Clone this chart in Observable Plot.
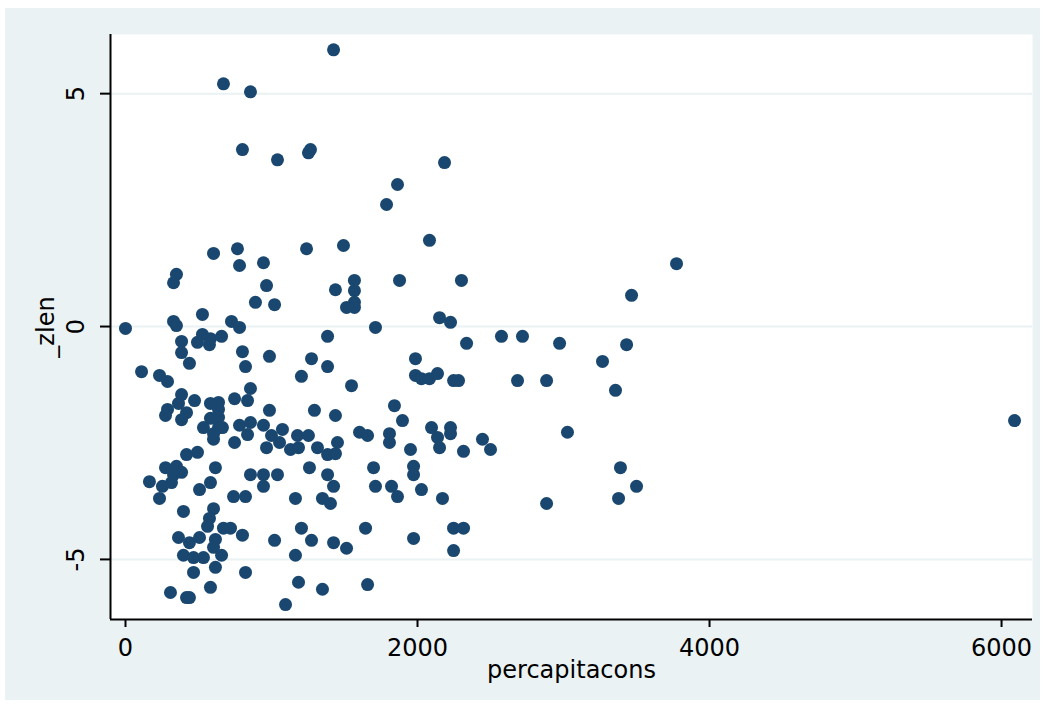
<!DOCTYPE html>
<html>
<head>
<meta charset="utf-8">
<script src="https://cdn.jsdelivr.net/npm/d3@7"></script>
<script src="https://cdn.jsdelivr.net/npm/@observablehq/plot@0.6"></script>
<style>
  html, body { margin: 0; padding: 0; background: #ffffff; }
  #chart { position: absolute; left: 5px; top: 8px; width: 1035px; height: 692px; background: #eaf2f3; }
</style>
</head>
<body>
<div id="chart"></div>
<script>
const percapitacons = [
  1425, 671, 856, 801, 1041, 1267, 1253, 603, 767, 781, 945, 1240, 1493, 349, 329, 966, 1438, 890, 1021, 527,
  329, 349, 0, 726, 781, 527, 493, 575, 582, 658, 384, 384, 1384, 801, 986, 438, 822, 1274, 1384, 1205,
  110, 233, 288, 856, 384, 363, 473, 582, 637, 637, 747, 836, 986, 1294, 1438, 288, 274, 418, 384, 582,
  637, 637, 534, 664, 603, 603, 781, 856, 836, 945, 747, 1000, 1075, 1055, 966, 1130, 1178, 1185, 1253, 1315,
  1452, 1384, 1438, 418, 493, 274, 349, 384, 329, 616, 1260, 1384, 164, 253, 315, 582, 507, 856, 945, 1041,
  945, 1425, 233, 740, 822, 1164, 1349, 1404, 397, 603, 575, 562, 671, 719, 1205, 363, 438, 507, 616, 603,
  801, 1021, 1274, 1425, 397, 466, 534, 658, 466, 616, 822, 1164, 1185, 1349, 308, 418, 438, 582, 1096,
  2185, 1863, 1788, 2082, 1568, 1568, 1877, 2301, 1568, 1514, 1568, 1712, 2151, 2226, 2575, 2719, 2973, 2336,
  1986, 1986, 2027, 2082, 2137, 2247, 2281, 2685, 2884, 1548, 1842, 1897, 1603, 1658, 1808, 1808, 2096, 2137,
  2151, 2226, 2226, 2445, 2500, 2315, 1952, 1699, 1973, 1973, 1712, 1822, 1863, 2027, 2171, 2884, 1644, 1973,
  2247, 2315, 2247, 1514, 1658, 3774, 3466, 3432, 3267, 3356, 6089, 3027, 3390, 3500, 3377
];
const zlen = [
  5.94, 5.21, 5.04, 3.80, 3.58, 3.80, 3.73, 1.57, 1.67, 1.31, 1.37, 1.67, 1.74, 1.12, 0.94, 0.88, 0.79, 0.52, 0.47, 0.26,
  0.11, 0.02, -0.04, 0.11, -0.02, -0.17, -0.34, -0.39, -0.26, -0.21, -0.32, -0.56, -0.21, -0.54, -0.64, -0.79, -0.86, -0.69, -0.86, -1.07,
  -0.97, -1.05, -1.18, -1.33, -1.46, -1.65, -1.59, -1.65, -1.63, -1.78, -1.55, -1.59, -1.80, -1.80, -1.91, -1.78, -1.91, -1.85, -2.00, -1.97,
  -1.95, -2.17, -2.17, -2.17, -2.30, -2.42, -2.12, -2.06, -2.32, -2.12, -2.49, -2.34, -2.21, -2.49, -2.60, -2.64, -2.34, -2.60, -2.34, -2.60,
  -2.49, -2.75, -2.73, -2.75, -2.70, -3.03, -3.00, -3.13, -3.18, -3.03, -3.03, -3.18, -3.33, -3.43, -3.35, -3.35, -3.50, -3.18, -3.18, -3.18,
  -3.43, -3.43, -3.69, -3.65, -3.65, -3.69, -3.69, -3.80, -3.97, -3.91, -4.12, -4.29, -4.33, -4.33, -4.33, -4.53, -4.64, -4.53, -4.57, -4.74,
  -4.48, -4.59, -4.59, -4.64, -4.91, -4.96, -4.96, -4.91, -5.28, -5.17, -5.28, -4.91, -5.49, -5.64, -5.71, -5.82, -5.82, -5.60, -5.97,
  3.52, 3.05, 2.62, 1.85, 0.99, 0.77, 0.99, 0.99, 0.52, 0.41, 0.41, -0.02, 0.19, 0.09, -0.21, -0.21, -0.36, -0.36,
  -0.69, -1.05, -1.12, -1.12, -1.01, -1.16, -1.16, -1.16, -1.16, -1.27, -1.70, -2.02, -2.27, -2.34, -2.30, -2.49, -2.17, -2.38,
  -2.60, -2.17, -2.30, -2.42, -2.64, -2.68, -2.64, -3.03, -3.00, -3.18, -3.43, -3.43, -3.65, -3.50, -3.69, -3.80, -4.33, -4.55,
  -4.33, -4.33, -4.81, -4.76, -5.54, 1.35, 0.67, -0.39, -0.75, -1.37, -2.02, -2.27, -3.03, -3.43, -3.69
];
const xTicks = [0, 2000, 4000, 6000];
const yTicks = [-5, 0, 5];
const xLabel = "percapitacons";
const yLabel = "_zlen";

const data = percapitacons.map((x, i) => ({x, y: zlen[i]}));
const xDomain = [-102.7, 6212];
const yDomain = [-6.29, 6.27];
const font = "DejaVu Sans";

const chart = Plot.plot({
  width: 1035,
  height: 692,
  marginLeft: 105,
  marginTop: 26,
  marginRight: 8,
  marginBottom: 81,
  x: {domain: xDomain, axis: null},
  y: {domain: yDomain, axis: null},
  style: {background: "#eaf2f3", fontFamily: font, fontSize: "24px", color: "#000", overflow: "visible"},
  marks: [
    Plot.frame({fill: "#ffffff", stroke: "none"}),
    Plot.ruleY(yTicks, {stroke: "#eaf2f3", strokeWidth: 2}),
    Plot.ruleX([xDomain[0]], {stroke: "#000", strokeWidth: 2}),
    Plot.ruleY([yDomain[0]], {stroke: "#000", strokeWidth: 2}),
    Plot.axisX({ticks: xTicks, tickSize: 8, tickPadding: 11, strokeWidth: 2, fontSize: 24, fontFamily: font, tickFormat: d => String(d), label: null}),
    Plot.axisY({ticks: yTicks, tickSize: 10, strokeWidth: 2, fill: "none", label: null}),
    Plot.text(yTicks, {y: d => d, text: d => String(d), frameAnchor: "left", dx: -27, rotate: -90, textAnchor: "middle", lineAnchor: "bottom", fontSize: 24, fontFamily: font, fill: "#000"}),
    Plot.text([yLabel], {text: d => d, frameAnchor: "left", dx: -57, rotate: -90, textAnchor: "middle", lineAnchor: "bottom", fontSize: 24, fontFamily: font, fill: "#000"}),
    Plot.text([xLabel], {text: d => d, frameAnchor: "bottom", dy: 58, lineAnchor: "bottom", fontSize: 24, fontFamily: font, fill: "#000"}),
    Plot.dot(data, {x: "x", y: "y", r: 6.5, fill: "#1a476f", stroke: "none"})
  ]
});
document.getElementById("chart").appendChild(chart);
</script>
</body>
</html>
